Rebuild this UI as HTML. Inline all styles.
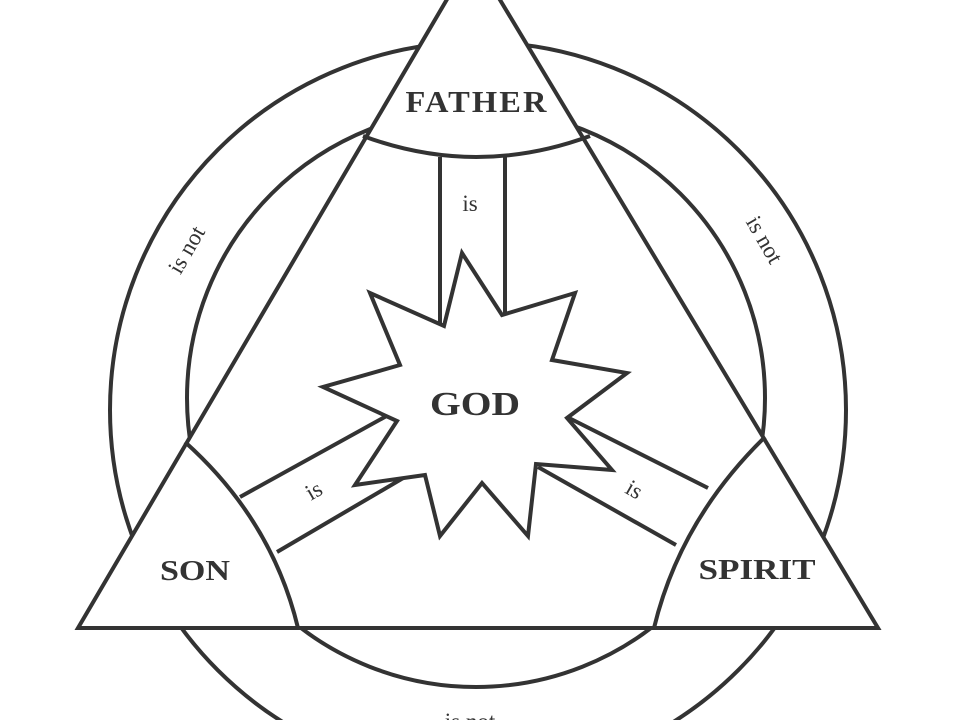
<!DOCTYPE html>
<html><head><style>html,body{margin:0;padding:0;background:#fff;overflow:hidden;width:960px;height:720px}svg{display:block}</style></head>
<body>
<svg width="960" height="720" viewBox="0 0 960 720" xmlns="http://www.w3.org/2000/svg">
<g fill="none" stroke="#333" stroke-width="4" stroke-linejoin="miter">
<circle cx="478" cy="410" r="368"/>
<circle cx="476" cy="398" r="289"/>
<polygon points="473,-45 878,628 78,628" fill="#fff"/>
<path d="M363,136 Q476,178 590,136"/>
<path d="M185,442 Q272,520 298,628"/>
<path d="M765,437 Q680,520 654,628"/>
<line x1="440" y1="157" x2="440" y2="326"/>
<line x1="505" y1="157" x2="505" y2="314"/>
<line x1="240" y1="497" x2="392" y2="413"/>
<line x1="277" y1="552" x2="410" y2="474"/>
<line x1="708" y1="488" x2="569" y2="418"/>
<line x1="676" y1="545" x2="538" y2="467"/>
<polygon fill="#fff" points="462,253 502,315 575,293 552,360 627,373 567,418 612,470 536,464 528,536 482,483 440,536 425,475 355,485 397,421 323,387 400,365 370,293 444,326"/>
</g>
<g font-family="'Liberation Serif',serif" font-weight="bold" fill="#333" text-anchor="middle">
<text x="477" y="112" font-size="31" letter-spacing="2" textLength="143" lengthAdjust="spacingAndGlyphs">FATHER</text>
<text x="475" y="415" font-size="34" textLength="90" lengthAdjust="spacingAndGlyphs">GOD</text>
<text x="195" y="580" font-size="29" textLength="70" lengthAdjust="spacingAndGlyphs">SON</text>
<text x="757" y="579" font-size="29" textLength="117" lengthAdjust="spacingAndGlyphs">SPIRIT</text>
</g>
<g font-family="'Liberation Serif',serif" fill="#333" text-anchor="middle" font-size="23">
<text x="470" y="211">is</text>
<text x="314" y="498" transform="rotate(-30 314 491)">is</text>
<text x="634" y="497" transform="rotate(30 634 490)">is</text>
<text x="187" y="257" transform="rotate(-60 187 250)">is not</text>
<text x="764" y="247" transform="rotate(60 764 240)">is not</text>
<text x="470" y="729">is not</text>
</g>
</svg>
</body></html>
